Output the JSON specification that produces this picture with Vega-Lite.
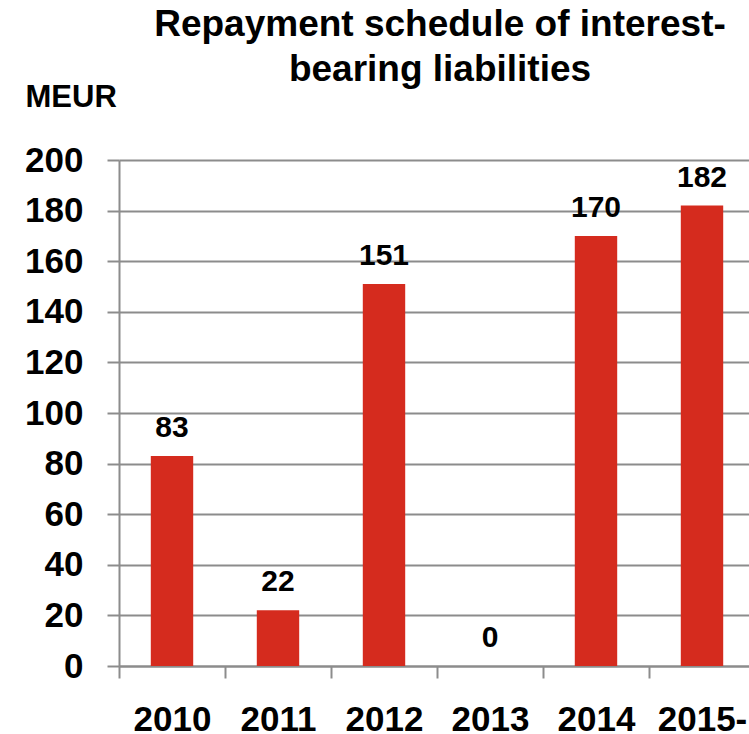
{
  "$schema": "https://vega.github.io/schema/vega-lite/v6.json",
  "width": 636,
  "height": 506,
  "autosize": {"type": "none"},
  "padding": {"left": 119, "top": 160, "right": 0, "bottom": 68},
  "background": "white",
  "config": {"view": {"stroke": null}, "font": "Liberation Sans"},
  "title": {
    "text": ["Repayment schedule of interest-", "bearing liabilities"],
    "fontSize": 37,
    "font": "Liberation Sans",
    "fontWeight": "bold",
    "color": "#000000",
    "lineHeight": 45,
    "anchor": "middle",
    "frame": "group",
    "baseline": "bottom",
    "offset": -45,
    "dx": 3
  },
  "data": {
    "values": [
      {"year": "2010", "value": 83},
      {"year": "2011", "value": 22},
      {"year": "2012", "value": 151},
      {"year": "2013", "value": 0},
      {"year": "2014", "value": 170},
      {"year": "2015-", "value": 182}
    ]
  },
  "encoding": {
    "x": {
      "field": "year",
      "type": "nominal",
      "sort": null,
      "scale": {"paddingInner": 0, "paddingOuter": 0},
      "axis": {
        "title": null,
        "labelAngle": 0,
        "labelFont": "Liberation Sans",
        "labelFontSize": 35,
        "labelFontWeight": "bold",
        "labelColor": "#000000",
        "labelBaseline": "alphabetic",
        "labelPadding": 52,
        "tickBand": "extent",
        "tickSize": 12,
        "tickWidth": 2,
        "tickColor": "#8c8c8c",
        "domainColor": "#8c8c8c",
        "domainWidth": 2,
        "grid": false,
        "labelOverlap": false,
        "labelBound": false
      }
    },
    "y": {
      "field": "value",
      "type": "quantitative",
      "scale": {"domain": [0, 200], "nice": false},
      "axis": {
        "values": [0, 20, 40, 60, 80, 100, 120, 140, 160, 180, 200],
        "title": "MEUR",
        "titleAngle": 0,
        "titleAlign": "left",
        "titleBaseline": "alphabetic",
        "titleX": -94,
        "titleY": -54,
        "titleFont": "Liberation Sans",
        "titleFontSize": 31,
        "titleFontWeight": "bold",
        "titleColor": "#000000",
        "labelFont": "Liberation Sans",
        "labelFontSize": 35,
        "labelFontWeight": "bold",
        "labelColor": "#000000",
        "labelPadding": 24,
        "tickSize": 12,
        "tickWidth": 2,
        "tickColor": "#8c8c8c",
        "domainColor": "#8c8c8c",
        "domainWidth": 2,
        "grid": true,
        "gridColor": "#8c8c8c",
        "gridWidth": 2,
        "gridOpacity": 1,
        "labelOverlap": false
      }
    }
  },
  "layer": [
    {"mark": {"type": "bar", "color": "#D52B1E", "width": {"band": 0.4}}},
    {
      "mark": {
        "type": "text",
        "baseline": "alphabetic",
        "dy": -19,
        "fontSize": 30,
        "fontWeight": "bold",
        "font": "Liberation Sans",
        "color": "#000000"
      },
      "encoding": {"text": {"field": "value", "type": "quantitative"}}
    }
  ]
}
